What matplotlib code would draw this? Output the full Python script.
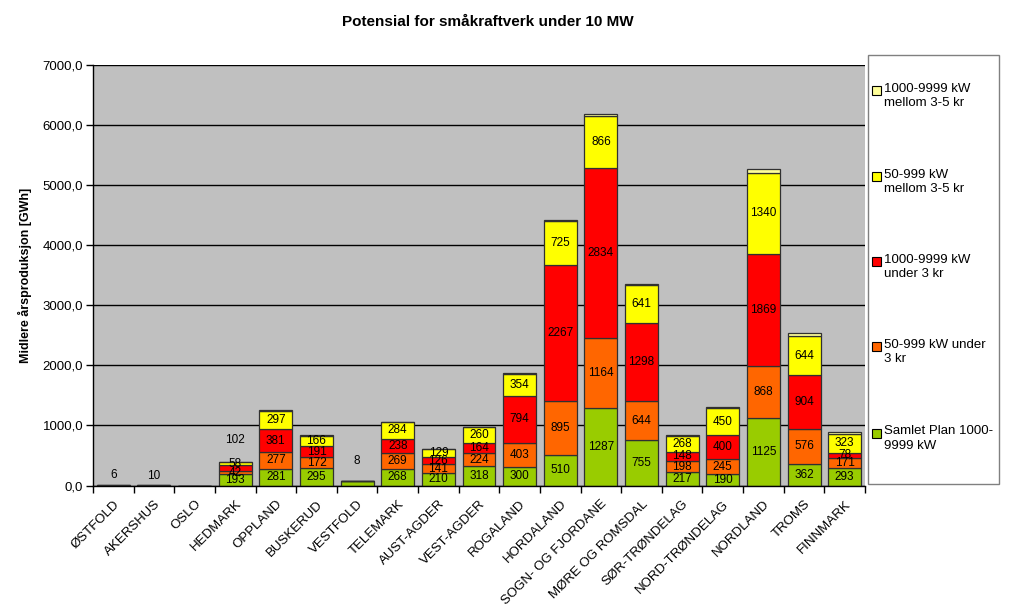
import matplotlib
matplotlib.use("Agg")
import matplotlib.pyplot as plt
from matplotlib.patches import Rectangle
import numpy as np

plt.rcParams['font.family'] = ['Liberation Sans', 'DejaVu Sans']

categories = ["ØSTFOLD", "AKERSHUS", "OSLO", "HEDMARK", "OPPLAND", "BUSKERUD",
              "VESTFOLD", "TELEMARK", "AUST-AGDER", "VEST-AGDER", "ROGALAND",
              "HORDALAND", "SOGN- OG FJORDANE", "MØRE OG ROMSDAL", "SØR-TRØNDELAG",
              "NORD-TRØNDELAG", "NORDLAND", "TROMS", "FINNMARK"]

samlet_plan = [0, 0, 0, 193, 281, 295, 74, 268, 210, 318, 300, 510, 1287, 755, 217, 190, 1125, 362, 293]
small_under3 = [0, 0, 0, 42, 277, 172, 0, 269, 141, 224, 403, 895, 1164, 644, 198, 245, 868, 576, 171]
large_under3 = [6, 10, 0, 102, 381, 191, 8, 238, 126, 164, 794, 2267, 2834, 1298, 148, 400, 1869, 904, 78]
small_3to5 = [0, 0, 0, 58, 297, 166, 0, 284, 129, 260, 354, 725, 866, 641, 268, 450, 1340, 644, 323]
large_3to5 = [0, 0, 0, 0, 16, 13, 0, 3, 2, 2, 25, 20, 30, 15, 6, 30, 75, 50, 25]

# labels of small segments that sit above the bars
float_label_cats = ["ØSTFOLD", "AKERSHUS", "HEDMARK", "VESTFOLD"]
float_label_text = ["6", "10", "102", "8"]
float_label_y = [175, 160, 755, 400]

series = [
    ("Samlet Plan 1000-\n9999 kW", samlet_plan, "#99CC00", True),
    ("50-999 kW under\n3 kr", small_under3, "#FF6600", True),
    ("1000-9999 kW\nunder 3 kr", large_under3, "#FF0000", True),
    ("50-999 kW\nmellom 3-5 kr", small_3to5, "#FFFF00", True),
    ("1000-9999 kW\nmellom 3-5 kr", large_3to5, "#FFFF99", False),
]

W, H = 1015, 610
fig = plt.figure(figsize=(W / 100, H / 100), dpi=100)
fig.patch.set_facecolor("white")
ax = fig.add_axes([93 / W, 1 - 485.5 / H, (865 - 93) / W, (485.5 - 65) / H])
ax.set_facecolor("#C0C0C0")

x = np.arange(len(categories))
bottom = np.zeros(len(categories))
float_set = set(float_label_cats)
for name, vals, col, show in series:
    v = np.array(vals, dtype=float)
    ax.bar(x, v, bottom=bottom, width=0.81, color=col, edgecolor="#303030",
           linewidth=0.9, zorder=3)
    if show:
        for i, val in enumerate(v):
            if val > 0 and categories[i] not in float_set:
                ax.text(x[i], bottom[i] + val / 2, f"{int(val)}", ha="center",
                        va="center", fontsize=8.5, color="black", zorder=5)
    bottom += v

for c, t, yv in zip(float_label_cats, float_label_text, float_label_y):
    ax.text(categories.index(c), yv, t, ha="center", va="center", fontsize=8.5,
            color="black", zorder=5)
# HEDMARK in-bar labels
hi = categories.index("HEDMARK")
ax.text(hi, 193 / 2, "193", ha="center", va="center", fontsize=8.5, zorder=5)
ax.text(hi, 193 + 21, "42", ha="center", va="center", fontsize=8.5, zorder=5)
ax.text(hi, 193 + 42 + 102 + 29, "58", ha="center", va="center", fontsize=8.5, zorder=5)

ax.set_xlim(-0.5, len(categories) - 0.5)
ax.set_ylim(0, 7000)
yt = np.arange(0, 7001, 1000)
ax.set_yticks(yt)
ax.set_yticklabels([f"{v:.1f}".replace(".", ",") for v in yt], fontsize=9.5)
ax.yaxis.grid(True, color="black", linewidth=1.0, zorder=1)
ax.set_axisbelow(True)

ax.set_xticks(x)
ax.set_xticklabels(categories, rotation=45, ha="right", va="top",
                   rotation_mode="anchor", fontsize=9.5)
ax.tick_params(axis="x", which="major", length=0, pad=9)
ax.set_xticks(np.arange(-0.5, len(categories), 1.0), minor=True)
ax.tick_params(axis="x", which="minor", length=5, width=1, direction="out", color="black")
ax.tick_params(axis="y", length=5, width=1, direction="out", color="black", pad=2)
for s in ["top", "right"]:
    ax.spines[s].set_visible(False)
for s in ["left", "bottom"]:
    ax.spines[s].set_color("black")
    ax.spines[s].set_linewidth(1.0)
    ax.spines[s].set_zorder(6)

ax.set_ylabel("Midlere årsproduksjon [GWh]", fontsize=9, fontweight="bold", labelpad=8)
fig.text(488 / W, 1 - 22 / H, "Potensial for småkraftverk under 10 MW",
         ha="center", va="center", fontsize=11, fontweight="bold")

# legend drawn in figure pixel coordinates
def fx(px):
    return px / W

def fy(py):
    return 1 - py / H

fig.patches.append(Rectangle((fx(868), fy(484)), fx(999) - fx(868), fy(55) - fy(484),
                             transform=fig.transFigure, facecolor="white",
                             edgecolor="#808080", linewidth=1.0))
leg_y = [90.7, 176.7, 261.7, 346.7, 433.3]
for (name, vals, col, show), yy in zip(series[::-1], leg_y):
    fig.patches.append(Rectangle((fx(872), fy(yy + 4.5)), fx(880.5) - fx(872),
                                 fy(yy - 4.5) - fy(yy + 4.5), transform=fig.transFigure,
                                 facecolor=col, edgecolor="black", linewidth=0.8))
    fig.text(fx(884), fy(yy - 8), name, ha="left", va="top", fontsize=9.5,
             linespacing=1.25)

fig.savefig("out.png", dpi=100)
